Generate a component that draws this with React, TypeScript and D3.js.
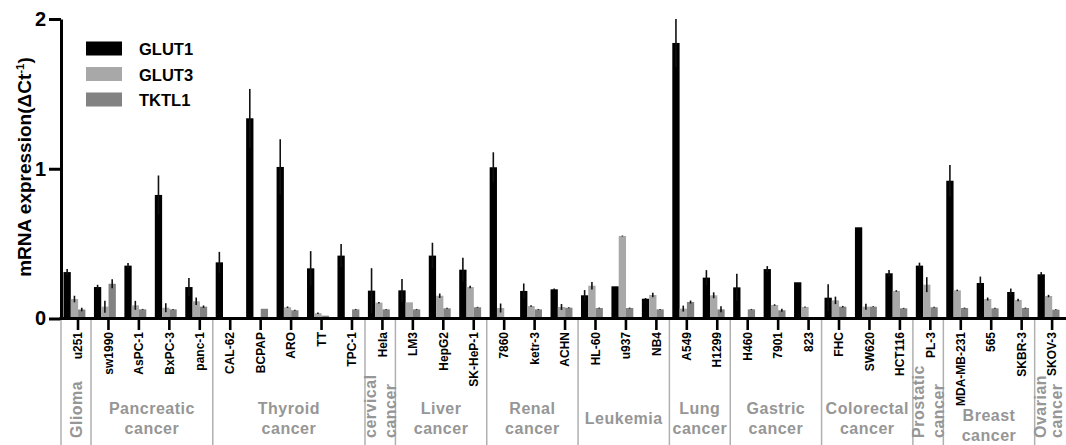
import React, { useEffect, useRef } from "react";
import * as d3 from "d3";

const categories = [
  "u251", "sw1990", "AsPC-1", "BxPC-3", "panc-1", "CAL-62", "BCPAP", "ARO", "TT", "TPC-1",
  "Hela", "LM3", "HepG2", "SK-HeP-1", "7860", "ketr-3", "ACHN", "HL-60", "u937", "NB4",
  "A549", "H1299", "H460", "7901", "823", "FHC", "SW620", "HCT116", "PL-3", "MDA-MB-231",
  "565", "SKBR-3", "SKOV-3",
];
const seriesNames = ["GLUT1", "GLUT3", "TKTL1"];

const glut1 = [0.31, 0.21, 0.353, 0.825, 0.21, 0.375, 1.337, 1.012, 0.335, 0.42, 0.186, 0.188, 0.42, 0.326, 1.01, 0.184, 0.195, 0.155, 0.215, 0.132, 1.84, 0.273, 0.208, 0.33, 0.242, 0.139, 0.609, 0.302, 0.353, 0.92, 0.237, 0.177, 0.295];
const glut1Err = [0.02, 0.015, 0.017, 0.13, 0.06, 0.07, 0.196, 0.185, 0.115, 0.078, 0.15, 0.076, 0.086, 0.08, 0.1, 0.05, 0.005, 0.035, 0, 0.005, 0.16, 0.05, 0.09, 0.02, 0, 0.09, 0, 0.022, 0.02, 0.105, 0.043, 0.023, 0.015];
const glut3 = [0.13, 0.079, 0.088, 0.072, 0.115, 0, 0, 0.075, 0.035, 0, 0.106, 0.108, 0.152, 0.21, 0.07, 0.083, 0.077, 0.219, 0.551, 0.157, 0.066, 0.155, 0, 0.09, 0.077, 0.121, 0.079, 0.184, 0.226, 0.188, 0.13, 0.124, 0.15];
const glut3Err = [0.022, 0.04, 0.03, 0.03, 0.025, 0, 0, 0.005, 0.005, 0, 0.005, 0, 0.015, 0.008, 0.03, 0.005, 0.02, 0.025, 0.003, 0.015, 0.02, 0.02, 0, 0.005, 0.003, 0.025, 0.02, 0.005, 0.05, 0.005, 0.01, 0.008, 0.008];
const tktl1 = [0.06, 0.232, 0.061, 0.061, 0.079, 0, 0.065, 0.055, 0.019, 0.061, 0.061, 0.061, 0.068, 0.075, 0, 0.061, 0.072, 0.07, 0.07, 0.061, 0.11, 0.061, 0.061, 0.055, 0, 0.079, 0.079, 0.068, 0.075, 0.07, 0.068, 0.07, 0.059];
const tktl1Err = [0.012, 0.03, 0.003, 0.003, 0.008, 0, 0, 0.003, 0, 0.003, 0.003, 0.003, 0.003, 0.003, 0, 0.003, 0.003, 0.003, 0.003, 0.003, 0.01, 0.02, 0.003, 0.01, 0, 0.005, 0.003, 0.003, 0.003, 0.003, 0.003, 0.003, 0.003];

const groupLabels = [
  ["Glioma"], ["Pancreatic", "cancer"], ["Thyroid", "cancer"], ["cervical", "cancer"],
  ["Liver", "cancer"], ["Renal", "cancer"], ["Leukemia"], ["Lung", "cancer"],
  ["Gastric", "cancer"], ["Colorectal", "cancer"], ["Prostatic", "cancer"],
  ["Breast", "cancer"], ["Ovarian", "cancer"],
];
const groupSizes = [1, 4, 5, 1, 3, 3, 3, 2, 3, 3, 1, 3, 1];
const verticalGroups = [0, 3, 10, 12];
const yTicks = [0, 1, 2];

const FONT = "'Liberation Sans', Arial, Helvetica, sans-serif";
const COLORS: Record<string, string> = { GLUT1: "#000000", GLUT3: "#a8a8a8", TKTL1: "#828282" };
const LABEL_GRAY = "#969696";

export default function App() {
  const ref = useRef<SVGSVGElement>(null);

  useEffect(() => {
    const svg = d3.select(ref.current);
    svg.selectAll("*").remove();

    const values: Record<string, number[]> = { GLUT1: glut1, GLUT3: glut3, TKTL1: tktl1 };
    const errs: Record<string, number[]> = { GLUT1: glut1Err, GLUT3: glut3Err, TKTL1: tktl1Err };

    const W = 1066;
    const axisX = 61;
    const y = d3.scaleLinear().domain([0, 2]).range([318.5, 19]);
    const x = d3.scaleBand().domain(categories).range([62.8, 62.8 + categories.length * 30.44]).padding(0);
    const xs = d3.scaleBand().domain(seriesNames).range([0.7, 22.6]).padding(0);
    const tickX = (c: string) => (x(c) as number) + x.bandwidth() / 2;

    // bars
    seriesNames.forEach((s) => {
      const g = svg.append("g");
      categories.forEach((c, i) => {
        const v = values[s][i];
        if (v <= 0) return;
        g.append("rect")
          .attr("x", (x(c) as number) + (xs(s) as number))
          .attr("y", y(v))
          .attr("width", xs.bandwidth())
          .attr("height", y(0) - y(v))
          .attr("fill", COLORS[s]);
      });
    });
    // error bars
    seriesNames.forEach((s) => {
      categories.forEach((c, i) => {
        const v = values[s][i];
        const e = errs[s][i];
        if (v <= 0 || e <= 0) return;
        const cx = (x(c) as number) + (xs(s) as number) + xs.bandwidth() / 2;
        svg.append("line")
          .attr("x1", cx).attr("x2", cx)
          .attr("y1", y(v + e)).attr("y2", y(Math.max(0, v - e)))
          .attr("stroke", "#111").attr("stroke-width", 1.6);
      });
    });

    // y axis
    const yAxis = svg.append("g")
      .attr("transform", `translate(${axisX},0)`)
      .call(d3.axisLeft(y).tickValues(yTicks).tickFormat(d3.format("d")).tickSize(12).tickSizeOuter(0).tickPadding(3));
    yAxis.select(".domain").attr("stroke", "#000").attr("stroke-width", 3);
    yAxis.selectAll(".tick line").attr("stroke", "#000").attr("stroke-width", 3);
    yAxis.selectAll(".tick text")
      .attr("fill", "#000")
      .attr("font-family", FONT).attr("font-size", 20).attr("font-weight", "bold");

    // x axis line
    svg.append("line")
      .attr("x1", axisX - 1.5).attr("x2", W)
      .attr("y1", y(0)).attr("y2", y(0))
      .attr("stroke", "#000").attr("stroke-width", 3);

    // x ticks and labels
    categories.forEach((c) => {
      const tx = tickX(c);
      svg.append("line")
        .attr("x1", tx).attr("x2", tx)
        .attr("y1", y(0)).attr("y2", y(0) + 11.5)
        .attr("stroke", "#000").attr("stroke-width", 2.6);
      svg.append("text")
        .attr("transform", `translate(${tx},332) rotate(-90)`)
        .attr("text-anchor", "end")
        .attr("dy", "0.35em")
        .attr("font-family", FONT).attr("font-size", 12).attr("font-weight", "bold")
        .attr("fill", "#000")
        .text(c);
    });

    // groups: separators and labels
    let start = 0;
    const bounds: [number, number, number, number][] = [];
    groupSizes.forEach((n, gi) => {
      const first = start;
      const last = start + n - 1;
      const left = gi === 0 ? axisX : tickX(categories[first - 1]) + 13;
      const right = tickX(categories[last]) + 13;
      bounds.push([left, right, first, last]);
      start += n;
    });
    bounds.forEach(([left]) => {
      svg.append("line")
        .attr("x1", left).attr("x2", left)
        .attr("y1", y(0) + 1.5).attr("y2", 445)
        .attr("stroke", "#b0b0b0").attr("stroke-width", 1.5);
    });

    const measure = svg.append("text")
      .attr("font-family", FONT).attr("font-size", 12).attr("font-weight", "bold")
      .attr("visibility", "hidden");
    const labelLen = (t: string) => {
      measure.text(t);
      return (measure.node() as SVGTextElement).getComputedTextLength();
    };

    bounds.forEach(([left, right, first, last], gi) => {
      const lines = groupLabels[gi];
      const cx = (left + right) / 2;
      if (verticalGroups.includes(gi)) {
        const n = lines.length;
        let firstX = cx - ((n - 1) / 2) * 20;
        let gap = 20;
        const lastX = cx + ((n - 1) / 2) * 20;
        if (lastX > W - 10 && n > 1) {
          firstX = left + 5.5;
          gap = (W - 10 - firstX) / (n - 1);
        }
        lines.forEach((ln, li) => {
          const lx = firstX + li * gap;
          svg.append("text")
            .attr("transform", `translate(${lx},438) rotate(-90)`)
            .attr("text-anchor", "start")
            .attr("dy", "0.35em")
            .attr("font-family", FONT).attr("font-size", 16).attr("font-weight", "bold")
            .attr("letter-spacing", 0.5)
            .attr("fill", LABEL_GRAY)
            .text(ln);
        });
      } else {
        let maxLen = 0;
        for (let i = first; i <= last; i++) maxLen = Math.max(maxLen, labelLen(categories[i]));
        const base1 = Math.max(413.5, 332 + maxLen + 14.5);
        const baseline = lines.length === 1 ? 423.5 : base1;
        lines.forEach((ln, li) => {
          svg.append("text")
            .attr("x", cx)
            .attr("y", baseline + li * 20.5)
            .attr("text-anchor", "middle")
            .attr("font-family", FONT).attr("font-size", 16).attr("font-weight", "bold")
            .attr("letter-spacing", 0.5)
            .attr("fill", LABEL_GRAY)
            .text(ln);
        });
      }
    });
    measure.remove();

    // legend
    seriesNames.forEach((s, i) => {
      const ly = 41.5 + i * 25.5;
      svg.append("rect")
        .attr("x", 86).attr("y", ly).attr("width", 36).attr("height", 14)
        .attr("fill", COLORS[s]);
      svg.append("text")
        .attr("x", 139).attr("y", ly + 13.5)
        .attr("font-family", FONT).attr("font-size", 16.5).attr("font-weight", "bold")
        .attr("fill", "#000")
        .text(s);
    });

    // y title
    const title = svg.append("text")
      .attr("transform", "translate(31,167) rotate(-90)")
      .attr("text-anchor", "middle")
      .attr("font-family", FONT).attr("font-size", 19).attr("font-weight", "bold")
      .attr("fill", "#000");
    title.append("tspan").text("mRNA expression(ΔCt");
    title.append("tspan").attr("font-size", 11.5).attr("dy", -7.5).text("-1");
    title.append("tspan").attr("dy", 7.5).text(")");
  }, []);

  return (
    <svg
      ref={ref}
      width={1066}
      height={445}
      style={{ position: "absolute", left: 0, top: 0, background: "#fff", display: "block" }}
    />
  );
}
